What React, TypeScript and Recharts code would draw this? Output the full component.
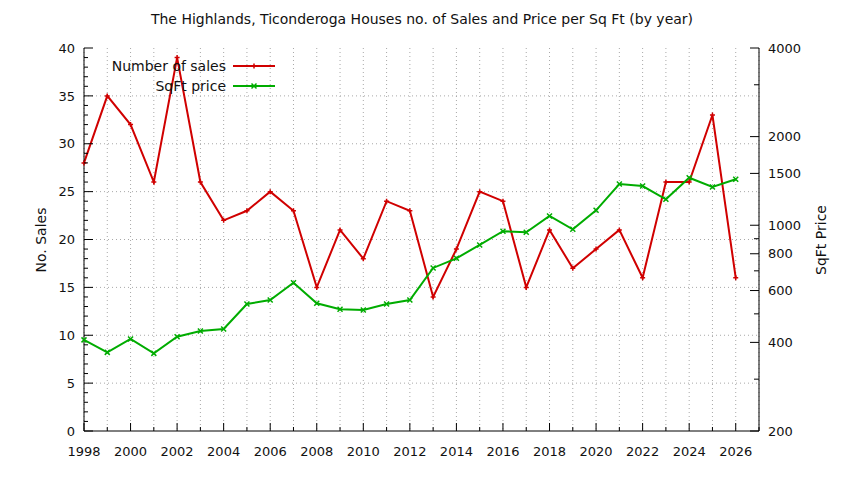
import React from "react";
import {
  CartesianGrid,
  ComposedChart,
  Legend,
  Line,
  XAxis,
  YAxis,
} from "recharts";

const YEARS = [
  1998, 1999, 2000, 2001, 2002, 2003, 2004, 2005, 2006, 2007, 2008, 2009, 2010,
  2011, 2012, 2013, 2014, 2015, 2016, 2017, 2018, 2019, 2020, 2021, 2022, 2023,
  2024, 2025, 2026,
];
const SALES = [
  28, 35, 32, 26, 39, 26, 22, 23, 25, 23, 15, 21, 18, 24, 23, 14, 19, 25, 24,
  15, 21, 17, 19, 21, 16, 26, 26, 33, 16,
];
const SQFT_PRICE = [
  408, 370, 411, 367, 418, 437, 444, 540, 557, 638, 543, 518, 515, 540, 557,
  716, 772, 857, 954, 946, 1075, 969, 1124, 1381, 1359, 1225, 1450, 1349, 1433,
];

const X_TICKS = [
  1998, 1999, 2000, 2001, 2002, 2003, 2004, 2005, 2006, 2007, 2008, 2009, 2010,
  2011, 2012, 2013, 2014, 2015, 2016, 2017, 2018, 2019, 2020, 2021, 2022, 2023,
  2024, 2025, 2026, 2027,
];
const LEFT_TICKS = [
  0, 1, 2, 3, 4, 5, 6, 7, 8, 9, 10, 11, 12, 13, 14, 15, 16, 17, 18, 19, 20, 21,
  22, 23, 24, 25, 26, 27, 28, 29, 30, 31, 32, 33, 34, 35, 36, 37, 38, 39, 40,
];
const LEFT_GRID = [5, 10, 15, 20, 25, 30, 35];
const RIGHT_TICKS = [200, 300, 400, 500, 600, 700, 800, 900, 1000, 1500, 2000, 3000, 4000];
const RIGHT_LABELS = [200, 400, 600, 800, 1000, 1500, 2000, 4000];

const TITLE = "The Highlands, Ticonderoga Houses no. of Sales and Price per Sq Ft (by year)";

const RED = "#d00000";
const GREEN = "#00ac00";
const INK = "#111";
const FONT = "'DejaVu Sans', sans-serif";

const data = YEARS.map((year, i) => ({
  year,
  sales: SALES[i],
  price: SQFT_PRICE[i],
}));

// gnuplot-style ticks: drawn inward from the border
function BottomTick({ x, y, payload }: any) {
  const v = payload.value;
  const major = v % 2 === 0;
  return (
    <g>
      <line x1={x} x2={x} y1={y} y2={y - (major ? 8 : 4)} stroke="#000" />
      {major && v <= 2026 && (
        <text x={x} y={y + 20} dy="0.36em" textAnchor="middle" fontSize={13} fill={INK}>
          {v}
        </text>
      )}
    </g>
  );
}

function TopTick({ x, y, payload }: any) {
  const major = payload.value % 2 === 0;
  return <line x1={x} x2={x} y1={y} y2={y + (major ? 8 : 4)} stroke="#000" />;
}

function LeftTick({ x, y, payload }: any) {
  const v = payload.value;
  const major = v % 5 === 0;
  return (
    <g>
      <line x1={x} x2={x + (major ? 9 : 4)} y1={y} y2={y} stroke="#000" />
      {major && (
        <text x={x - 9} y={y} dy="0.36em" textAnchor="end" fontSize={13} fill={INK}>
          {v}
        </text>
      )}
    </g>
  );
}

function RightTick({ x, y, payload }: any) {
  const v = payload.value;
  const major = RIGHT_LABELS.includes(v);
  return (
    <g>
      <line x1={x} x2={x - (major ? 9 : 5)} y1={y} y2={y} stroke="#000" />
      {major && (
        <text x={x + 9} y={y} dy="0.36em" textAnchor="start" fontSize={13} fill={INK}>
          {v}
        </text>
      )}
    </g>
  );
}

function PlusDot(p: any) {
  const { cx, cy } = p;
  if (cx == null || cy == null) return <g key={p.key} />;
  return (
    <path
      key={p.key}
      d={`M${cx - 2.5},${cy}h5M${cx},${cy - 2.5}v5`}
      stroke={RED}
      strokeWidth={1.5}
    />
  );
}

function CrossDot(p: any) {
  const { cx, cy } = p;
  if (cx == null || cy == null) return <g key={p.key} />;
  return (
    <path
      key={p.key}
      d={`M${cx - 2.5},${cy - 2.5}l5,5M${cx - 2.5},${cy + 2.5}l5,-5`}
      stroke={GREEN}
      strokeWidth={1.5}
    />
  );
}

function LegendBox() {
  return (
    <svg width={300} height={100} style={{ display: "block" }}>
      <text x={226} y={66} dy="0.36em" textAnchor="end" fontSize={14} fill={INK} fontFamily={FONT}>
        Number of sales
      </text>
      <line x1={233} x2={275} y1={66} y2={66} stroke={RED} strokeWidth={2} />
      <path d="M251.5,66h5M254,63.5v5" stroke={RED} strokeWidth={1.5} />
      <text x={226} y={86} dy="0.36em" textAnchor="end" fontSize={14} fill={INK} fontFamily={FONT}>
        SqFt price
      </text>
      <line x1={233} x2={275} y1={86} y2={86} stroke={GREEN} strokeWidth={2} />
      <path d="M251.5,83.5l5,5M251.5,88.5l5,-5" stroke={GREEN} strokeWidth={1.5} />
    </svg>
  );
}

export default function App() {
  return (
    <div
      style={{
        position: "absolute",
        left: 0,
        top: 0,
        width: 844,
        height: 480,
        background: "#fff",
        fontFamily: FONT,
      }}
    >
      <div
        style={{
          position: "absolute",
          top: 11,
          left: 0,
          width: 844,
          textAlign: "center",
          fontSize: 14,
          lineHeight: "16px",
          color: INK,
        }}
      >
        {TITLE}
      </div>
      <div
        style={{
          position: "absolute",
          left: 41,
          top: 240,
          transform: "translate(-50%, -50%) rotate(-90deg)",
          fontSize: 14,
          whiteSpace: "nowrap",
          color: INK,
        }}
      >
        No. Sales
      </div>
      <div
        style={{
          position: "absolute",
          left: 821,
          top: 240,
          transform: "translate(-50%, -50%) rotate(-90deg)",
          fontSize: 14,
          whiteSpace: "nowrap",
          color: INK,
        }}
      >
        SqFt Price
      </div>
      <ComposedChart
        width={844}
        height={480}
        data={data}
        margin={{ top: 48, right: 25, bottom: 19, left: 24 }}
        style={{ position: "absolute", left: 0, top: 0 }}
      >
        <CartesianGrid
          xAxisId="bottom"
          yAxisId="left"
          stroke="#a8a8a8"
          strokeDasharray="1 3"
          horizontalValues={LEFT_GRID}
        />
        <XAxis
          xAxisId="bottom"
          dataKey="year"
          type="number"
          domain={[1998, 2027]}
          ticks={X_TICKS}
          interval={0}
          height={30}
          tickSize={0}
          tickMargin={0}
          tickLine={false}
          axisLine={{ stroke: "#000" }}
          tick={<BottomTick />}
        />
        <XAxis
          xAxisId="top"
          orientation="top"
          dataKey="year"
          type="number"
          domain={[1998, 2027]}
          ticks={X_TICKS}
          interval={0}
          height={0}
          tickSize={0}
          tickMargin={0}
          tickLine={false}
          axisLine={{ stroke: "#000" }}
          tick={<TopTick />}
        />
        <YAxis
          yAxisId="left"
          domain={[0, 40]}
          ticks={LEFT_TICKS}
          interval={0}
          width={60}
          tickSize={0}
          tickMargin={0}
          tickLine={false}
          axisLine={{ stroke: "#000" }}
          tick={<LeftTick />}
        />
        <YAxis
          yAxisId="right"
          orientation="right"
          scale="log"
          domain={[200, 4000]}
          ticks={RIGHT_TICKS}
          interval={0}
          width={60}
          tickSize={0}
          tickMargin={0}
          tickLine={false}
          axisLine={{ stroke: "#000" }}
          tick={<RightTick />}
        />
        <Legend
          layout="vertical"
          align="center"
          verticalAlign="middle"
          wrapperStyle={{ left: 0, top: 0, width: 300, height: 100 }}
          content={() => <LegendBox />}
        />
        <Line
          xAxisId="bottom"
          yAxisId="left"
          dataKey="sales"
          stroke={RED}
          strokeWidth={2}
          dot={PlusDot}
          activeDot={false}
          isAnimationActive={false}
        />
        <Line
          xAxisId="bottom"
          yAxisId="right"
          dataKey="price"
          stroke={GREEN}
          strokeWidth={2}
          dot={CrossDot}
          activeDot={false}
          isAnimationActive={false}
        />
      </ComposedChart>
    </div>
  );
}
